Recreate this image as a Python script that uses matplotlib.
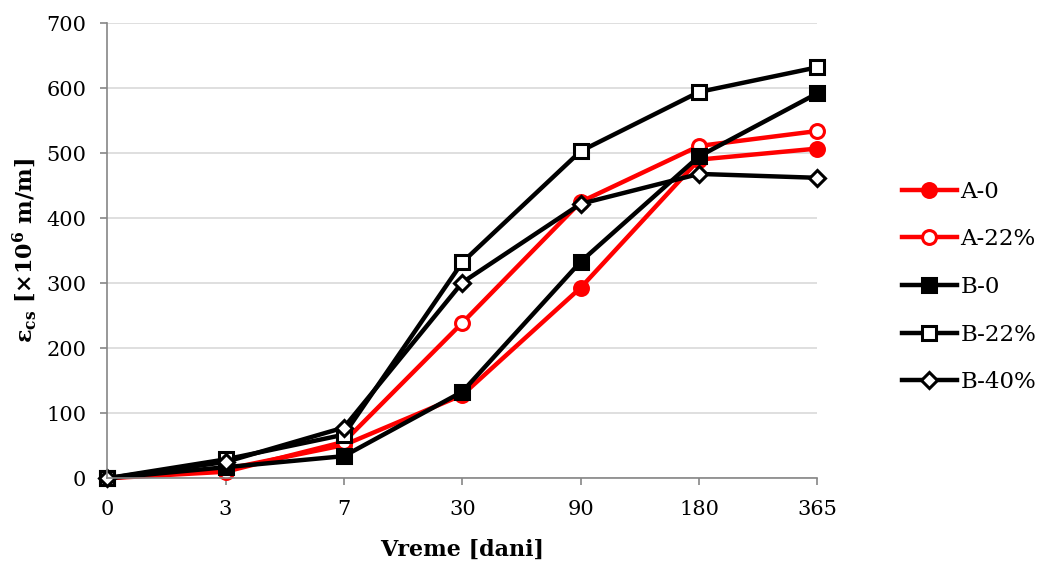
import matplotlib
matplotlib.use("Agg")
import matplotlib.pyplot as plt

plt.rcParams['font.family'] = ['DejaVu Serif']
plt.rcParams['mathtext.fontset'] = 'dejavuserif'

# data
days = ['0', '3', '7', '30', '90', '180', '365']
a_0 = [0, 14, 51, 128, 293, 490, 507]
a_22 = [0, 10, 56, 239, 425, 511, 534]
b_0 = [0, 17, 34, 133, 333, 495, 592]
b_22 = [0, 29, 67, 332, 503, 594, 632]
b_40 = [0, 25, 78, 301, 422, 468, 462]

series = [
    ('A-0', a_0, 'red', 'o', 'red'),
    ('A-22%', a_22, 'red', 'o', 'white'),
    ('B-0', b_0, 'black', 's', 'black'),
    ('B-22%', b_22, 'black', 's', 'white'),
    ('B-40%', b_40, 'black', 'D', 'white'),
]

fig = plt.figure(figsize=(10.4, 5.62), dpi=100)
ax = fig.add_axes([0.103, 0.149, 0.683, 0.810])

x = list(range(len(days)))
for name, vals, col, mk, face in series:
    ms = 8 if mk == 'D' else 10
    ax.plot(x, vals, color=col, lw=3.2, marker=mk, markersize=ms,
            markerfacecolor=face, markeredgecolor=col, markeredgewidth=2.2,
            label=name, clip_on=False)

ax.set_xlim(0, 6)
ax.set_ylim(0, 700)
ax.set_xticks(x)
ax.set_xticklabels(days)
ax.set_yticks(range(0, 701, 100))
ax.grid(axis='y', color='#d9d9d9', lw=1.2)
ax.set_axisbelow(True)

for s in ['top', 'right']:
    ax.spines[s].set_visible(False)
for s in ['left', 'bottom']:
    ax.spines[s].set_color('#868686')
    ax.spines[s].set_linewidth(1.2)
ax.tick_params(colors='#868686', labelcolor='black', labelsize=15, length=5, width=1.2)
ax.tick_params(axis='x', pad=11)
ax.tick_params(axis='y', pad=10)

ax.set_xlabel('Vreme [dani]', fontsize=16, fontweight='bold', labelpad=14)
ax.set_ylabel(r'ε$_{\mathbf{cs}}$ [×10$^{\mathbf{6}}$ m/m]', fontsize=16,
              fontweight='bold', labelpad=5)

ax.legend(loc='center left', bbox_to_anchor=(1.09, 0.42), frameon=False,
          fontsize=16.5, handlelength=2.4, labelspacing=1.12, handletextpad=0.15)

fig.savefig('out.png', dpi=100)
